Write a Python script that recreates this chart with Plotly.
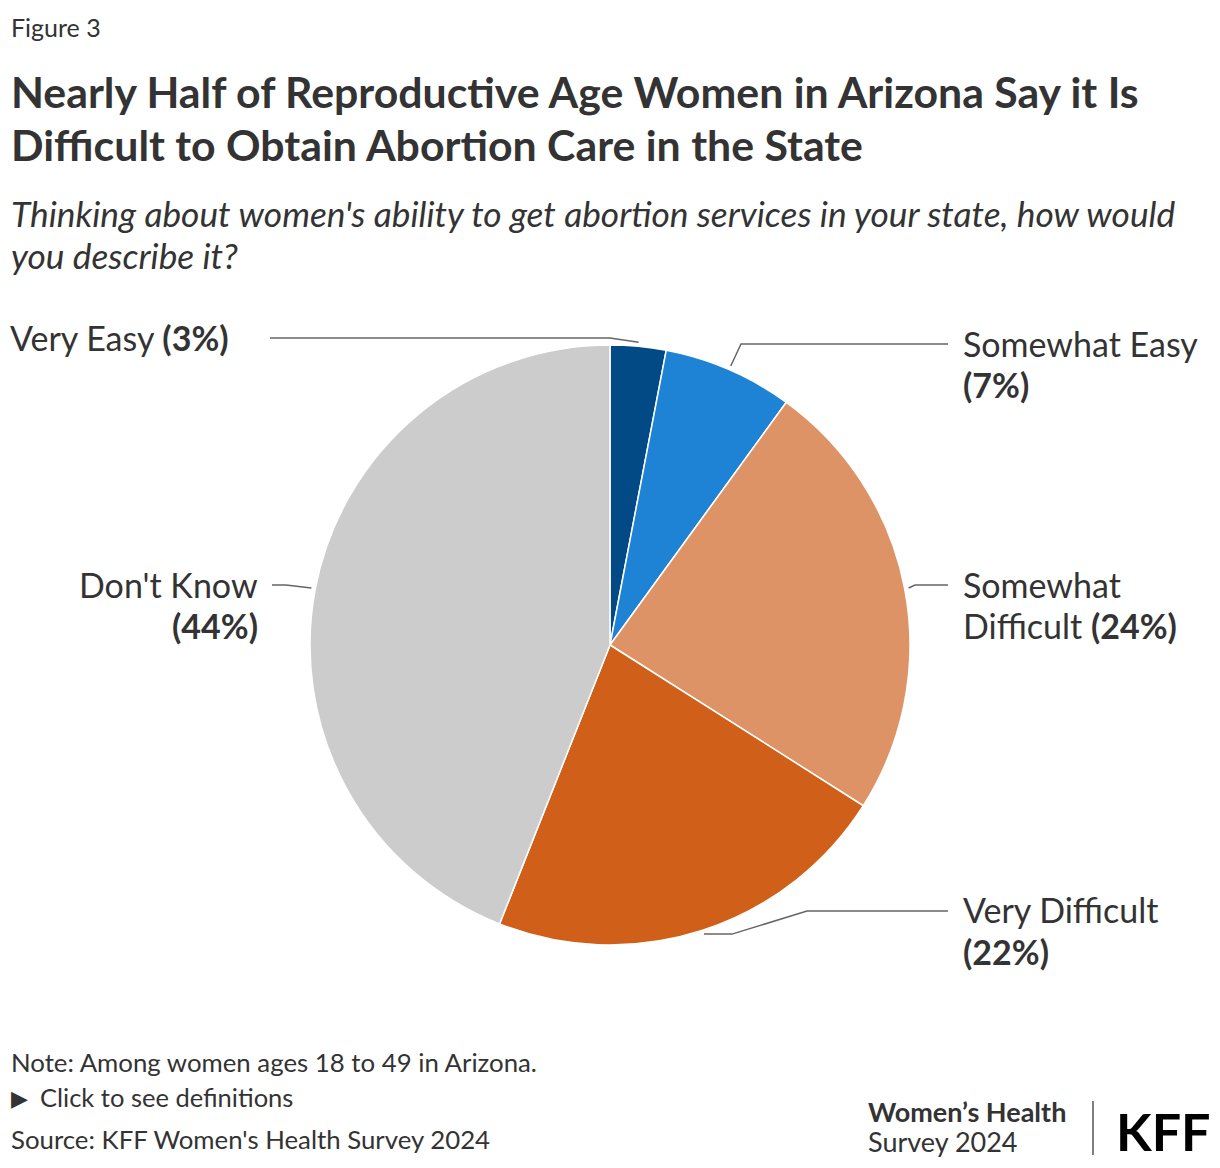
import math
import plotly.graph_objects as go

# ---- data ----
categories = ["Very Easy", "Somewhat Easy", "Somewhat Difficult", "Very Difficult", "Don't Know"]
values = [3, 7, 24, 22, 44]
colors = ["#024A86", "#1E82D5", "#DE9366", "#CF5F19", "#CCCCCC"]

W, H = 1220, 1168
FONT = "Lato"
TXT = "#333333"

# pie geometry (pixels)
CX, CY, R = 610, 645, 300

fig = go.Figure(go.Pie(
    labels=categories, values=values, sort=False, direction="clockwise", rotation=0,
    marker=dict(colors=colors, line=dict(color="white", width=1.5)),
    textinfo="none", hoverinfo="label+percent", showlegend=False,
    domain=dict(x=[(CX - R) / W, (CX + R) / W], y=[1 - (CY + R) / H, 1 - (CY - R) / H]),
))

def px(x):
    return x / W

def py(y):
    return 1 - y / H

# label layout: side, y of leader line / first text line, text x, elbow x, via points
label_layout = {
    "Very Easy": dict(side="left", ly=338, tx=231, end=270, elbow=610, via=[]),
    "Somewhat Easy": dict(side="right", ly=344, tx=961, end=948, elbow=741, via=[]),
    "Somewhat Difficult": dict(side="right", ly=585, tx=961, end=948, elbow=915, via=[]),
    "Very Difficult": dict(side="right", ly=911, tx=961, end=948, elbow=807, via=["h28"]),
    "Don't Know": dict(side="left", ly=585, tx=260, end=272, elbow=286, via=[]),
}
label_lines = {
    "Very Easy": ["Very Easy <b>(3%)</b>"],
    "Somewhat Easy": ["Somewhat Easy", "<b>(7%)</b>"],
    "Somewhat Difficult": ["Somewhat", "Difficult <b>(24%)</b>"],
    "Very Difficult": ["Very Difficult", "<b>(22%)</b>"],
    "Don't Know": ["Don't Know", "<b>(44%)</b>"],
}
LABEL_SIZE = 34
LINE_GAP = 41

total = sum(values)
cum = 0
shapes = []
annotations = []
for cat, v in zip(categories, values):
    mid = (cum + v / 2) / total * 2 * math.pi
    cum += v
    ax = CX + (R + 4) * math.sin(mid)
    ay = CY - (R + 4) * math.cos(mid)
    L = label_layout[cat]
    pts = [(ax, ay)]
    for vpt in L["via"]:
        pts.append((ax + int(vpt[1:]), ay))
    pts.append((L["elbow"], L["ly"]))
    pts.append((L["end"], L["ly"]))
    path = "M " + " L ".join(f"{px(x)},{py(y)}" for x, y in pts)
    shapes.append(dict(type="path", xref="paper", yref="paper", path=path,
                       line=dict(color="#666666", width=1.5)))
    for i, line in enumerate(label_lines[cat]):
        annotations.append(dict(
            x=px(L["tx"]), y=py(L["ly"] + i * LINE_GAP - 1), xref="paper", yref="paper",
            xanchor="left" if L["side"] == "right" else "right", yanchor="middle",
            text=line, showarrow=False,
            font=dict(family=FONT, size=LABEL_SIZE, color=TXT),
        ))

def txt(x, y, s, size, bold=False, italic=False, color=TXT, xanchor="left", family=FONT):
    if bold:
        s = f"<b>{s}</b>"
    if italic:
        s = f"<i>{s}</i>"
    annotations.append(dict(x=px(x), y=py(y), xref="paper", yref="paper", text=s,
                            showarrow=False, xanchor=xanchor, yanchor="middle", align="left",
                            font=dict(family=family, size=size, color=color)))

txt(9, 27, "Figure 3", 25)
txt(9, 92, "Nearly Half of Reproductive Age Women in Arizona Say it Is", 42.8, bold=True)
txt(9, 144, "Difficult to Obtain Abortion Care in the State", 42.8, bold=True)
txt(9, 213, "Thinking about women's ability to get abortion services in your state, how would", 35.3, italic=True)
txt(9, 255, "you describe it?", 35.3, italic=True)
txt(9, 1062, "Note: Among women ages 18 to 49 in Arizona.", 25.8)
txt(9, 1097, "\u25B6", 22)
txt(38, 1097, "Click to see definitions", 25.5)
txt(9, 1139, "Source: KFF Women's Health Survey 2024", 25.8)
txt(866, 1111, "Women\u2019s Health", 27, bold=True)
txt(866, 1141, "Survey 2024", 27)
txt(1114, 1131, "KFF", 52, bold=True, color="#000000")
shapes.append(dict(type="line", xref="paper", yref="paper", x0=px(1093), x1=px(1093),
                   y0=py(1101), y1=py(1155), line=dict(color="#555555", width=1.5)))

fig.update_layout(
    width=W, height=H, margin=dict(l=0, r=0, t=0, b=0),
    paper_bgcolor="white", plot_bgcolor="white",
    shapes=shapes, annotations=annotations,
)
fig.write_html("out.html")
